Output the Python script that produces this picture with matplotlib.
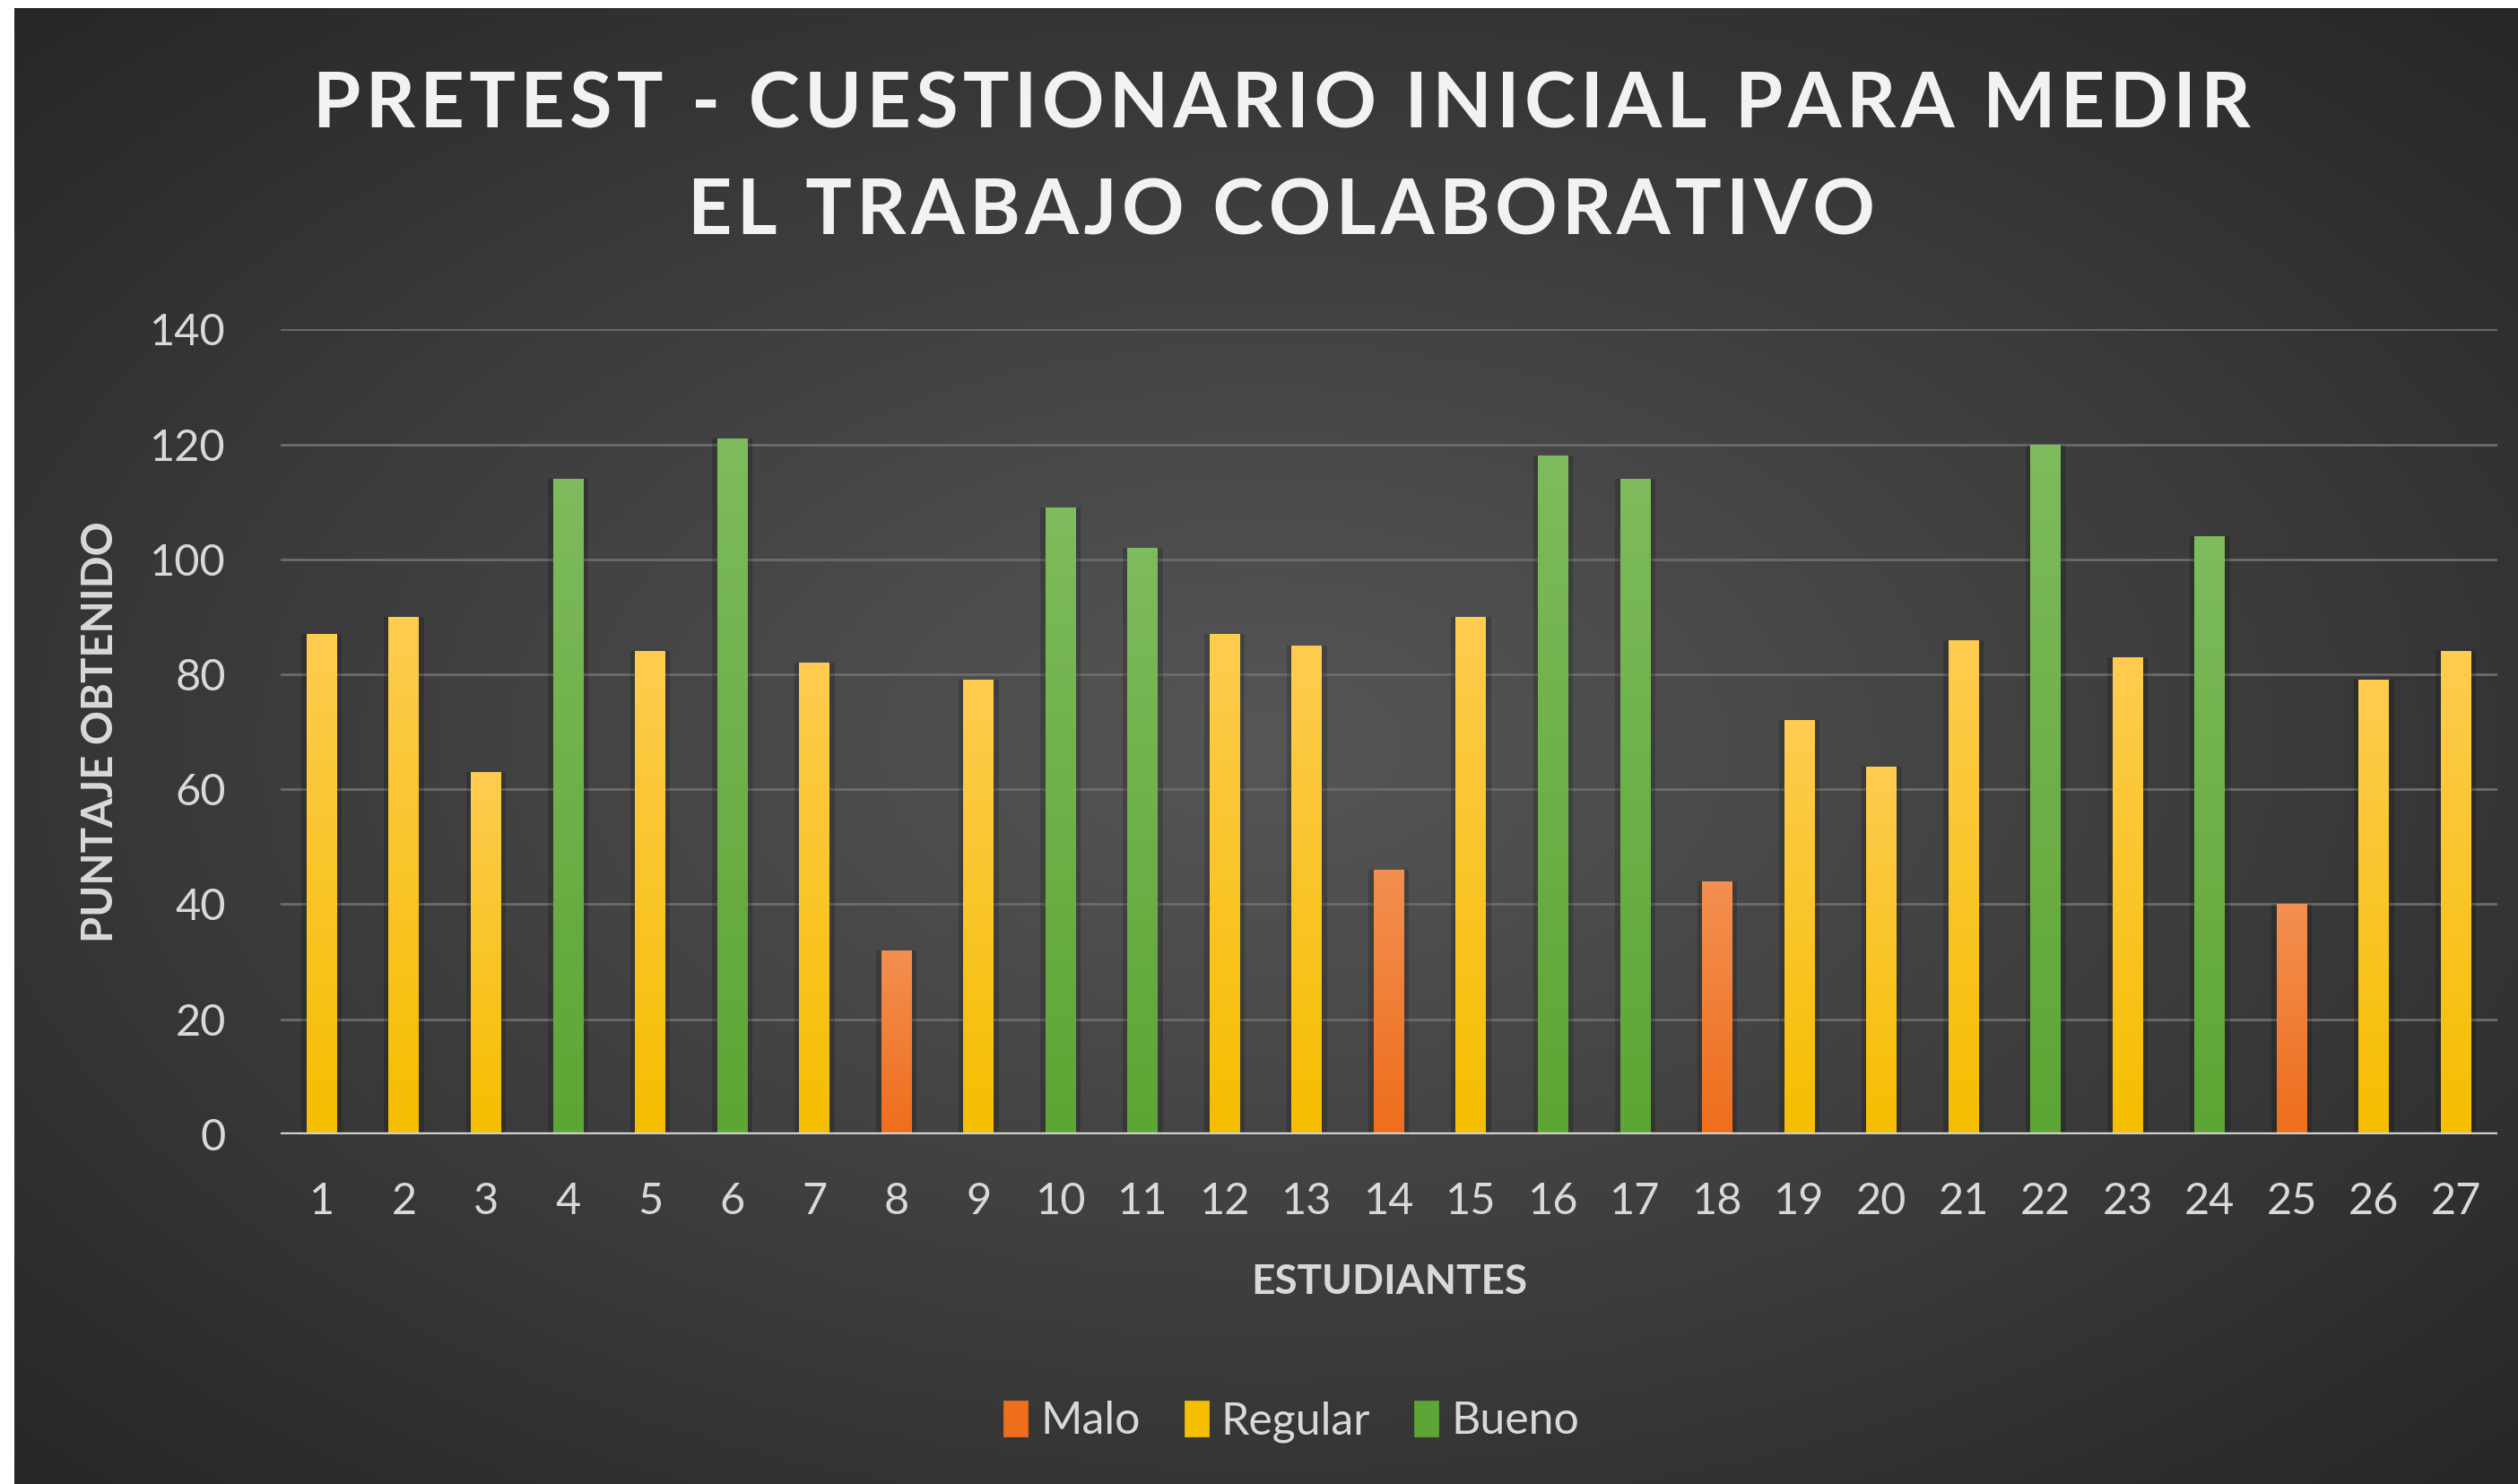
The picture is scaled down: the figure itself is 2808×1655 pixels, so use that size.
import numpy as np
import matplotlib
matplotlib.use('Agg')
import matplotlib.pyplot as plt
from matplotlib.patches import Patch

plt.rcParams['font.family'] = ['Lato', 'DejaVu Sans']

# datos
estudiantes = list(range(1, 28))
puntajes = [87, 90, 63, 114, 84, 121, 82, 32, 79, 109, 102, 87, 85, 46,
            90, 118, 114, 44, 72, 64, 86, 120, 83, 104, 40, 79, 84]
nivel = ['Regular', 'Regular', 'Regular', 'Bueno', 'Regular', 'Bueno', 'Regular',
         'Malo', 'Regular', 'Bueno', 'Bueno', 'Regular', 'Regular', 'Malo',
         'Regular', 'Bueno', 'Bueno', 'Malo', 'Regular', 'Regular', 'Regular',
         'Bueno', 'Regular', 'Bueno', 'Malo', 'Regular', 'Regular']
niveles = ['Malo', 'Regular', 'Bueno']
colores = {'Malo': ('#F38F50', '#EE6E1C'),
           'Regular': ('#FFCC50', '#F5BE00'),
           'Bueno': ('#7EBB5C', '#5DA534')}
yticks = [0, 20, 40, 60, 80, 100, 120, 140]
titulo = ['PRETEST - CUESTIONARIO INICIAL PARA MEDIR', 'EL TRABAJO COLABORATIVO']

fig = plt.figure(figsize=(14.04, 8.275), dpi=200)
fig.patch.set_facecolor('white')

# fondo con degradado radial
bg = fig.add_axes([16/2808, 0, 1 - 16/2808, 1 - 9/1655])
yy, xx = np.mgrid[-1:1:300j, -1:1:500j]
r = np.sqrt(xx**2 + yy**2) / np.sqrt(2)
g = 0.34 - 0.19 * r
bg.imshow(np.dstack([g, g, g]), aspect='auto', extent=[0, 1, 0, 1])
bg.set_axis_off()

ax = fig.add_axes([0.1115, 0.2357, 0.9917 - 0.1115, 0.778 - 0.2357])
ax.patch.set_alpha(0)

ancho = 0.37
for nv in niveles:
    xs = [e for e, n in zip(estudiantes, nivel) if n == nv]
    vs = [p for p, n in zip(puntajes, nivel) if n == nv]
    top, bot = colores[nv]
    bars = ax.bar(xs, vs, width=ancho, color=bot, zorder=3, label=nv)
    c1 = np.array(matplotlib.colors.to_rgb(top))
    c2 = np.array(matplotlib.colors.to_rgb(bot))
    grad = np.linspace(0, 1, 64)[:, None, None]
    img = c1 * (1 - grad) + c2 * grad
    for b in bars:
        x0, w, h = b.get_x(), b.get_width(), b.get_height()
        # sombra
        ax.bar(x0 + w/2, h, width=w + 0.12, color='black', alpha=0.18, zorder=2)
        im = ax.imshow(img, extent=[x0, x0 + w, 0, h], aspect='auto', zorder=4)
        im.set_clip_path(b)

ax.set_xlim(0.5, 27.5)
ax.set_ylim(0, 140)
ax.set_yticks(yticks)
ax.set_xticks(estudiantes)
ax.grid(axis='y', color='#6c6c6c', linewidth=1.0, zorder=1)
ax.axhline(0, color='#d0d0d0', linewidth=1.6, zorder=5)
for s in ax.spines.values():
    s.set_visible(False)
ax.tick_params(length=0, colors='#d9d9d9', labelsize=17.5)
ax.tick_params(axis='x', pad=19)
ax.tick_params(axis='y', pad=22)

ax.set_ylabel('PUNTAJE OBTENIDO', color='#d9d9d9', fontsize=17, fontweight='bold', labelpad=12)
ax.set_xlabel('ESTUDIANTES', color='#d9d9d9', fontsize=16.5, fontweight='bold', labelpad=17)

# titulo con espaciado entre letras
for i, linea in enumerate(titulo):
    fig.text(0.509, 0.929 - 0.072 * i, '\u200a'.join(linea), ha='center', va='center',
             color='#f2f2f2', fontsize=31, fontweight='bold')

handles = [Patch(color=colores[n][1]) for n in niveles]
fig.legend(handles, niveles, loc='center', bbox_to_anchor=(0.513, 0.042), ncol=3, frameon=False,
           fontsize=18, labelcolor='#d9d9d9', handlelength=0.5, handleheight=0.8,
           handletextpad=0.3, columnspacing=1.0)

fig.savefig('out.png', dpi=200)
